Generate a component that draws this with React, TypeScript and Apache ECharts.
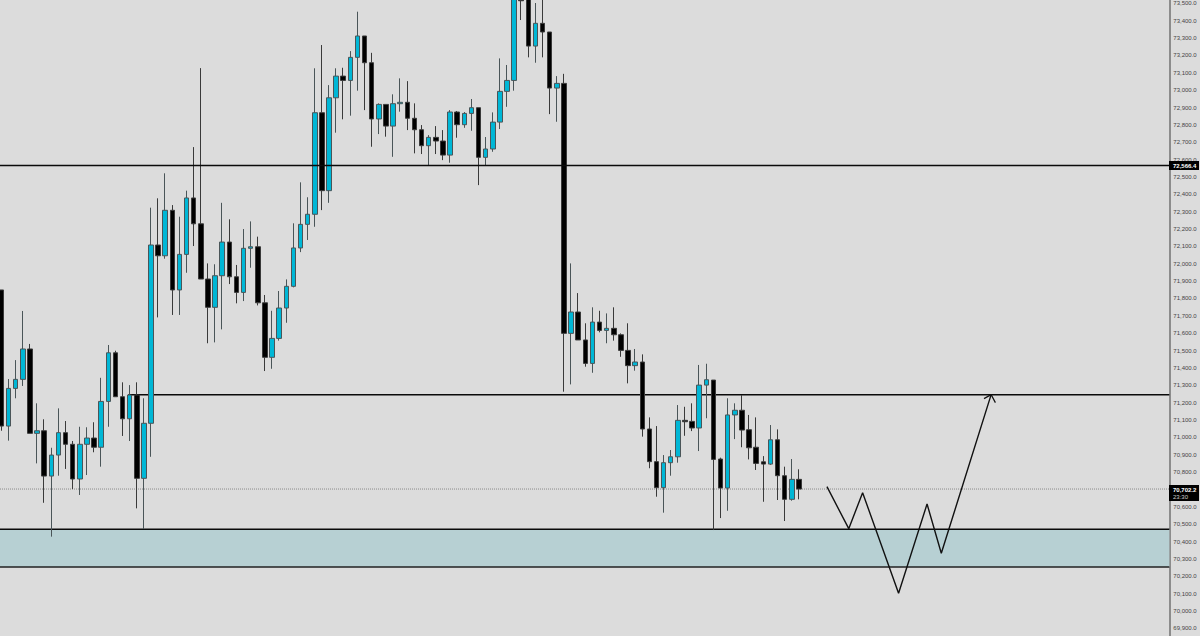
import React, { useEffect, useRef } from "react";
import * as echarts from "echarts";

const opens = [
  71849, 71065, 71282, 71334, 71509, 71023, 71038, 70777, 70898, 71027,
  70960, 70760, 70960, 70996, 70943, 71207, 71487, 71234, 71107, 71244,
  70764, 71081, 72108, 72046, 72308, 71849, 72054, 72379, 72230, 71912,
  71749, 71931, 72125, 71925, 71835, 72089, 72098, 71775, 71461, 71570,
  71745, 71870, 72091, 72227, 72285, 72870, 72421, 72956, 73081, 73056,
  73189, 73312, 73158, 72834, 72918, 72793, 72922, 72930, 72838, 72772,
  72680, 72728, 72707, 72626, 72874, 72801, 72866, 72899, 72613, 72661,
  72816, 72993, 73056, 73540, 73560, 73254, 73385, 73335, 73012, 73039,
  71599, 71722, 71561, 71426, 71664, 71616, 71628, 71591, 71501, 71413,
  71434, 71048, 70860, 70710, 70854, 70888, 71098, 71092, 71054, 71301,
  71330, 70875, 70708, 71129, 71156, 71044, 70943, 70859, 70846, 70986,
  70779, 70643, 70758,
];
const closes = [
  71065, 71282, 71334, 71509, 71023, 71038, 70777, 70898, 71027, 70960,
  70760, 70960, 70996, 70943, 71207, 71487, 71234, 71107, 71244, 70764,
  71081, 72108, 72046, 72308, 71849, 72054, 72379, 72230, 71912, 71749,
  71931, 72125, 71925, 71835, 72089, 72098, 71775, 71461, 71570, 71745,
  71870, 72091, 72227, 72285, 72870, 72421, 72956, 73081, 73056, 73189,
  73312, 73158, 72834, 72918, 72793, 72922, 72930, 72838, 72772, 72680,
  72728, 72707, 72626, 72874, 72801, 72866, 72899, 72613, 72661, 72816,
  72993, 73056, 73560, 73515, 73254, 73385, 73335, 73012, 73039, 71599,
  71722, 71561, 71426, 71664, 71616, 71628, 71591, 71501, 71413, 71434,
  71048, 70860, 70710, 70854, 70888, 71098, 71090, 71054, 71301, 71332,
  70873, 70708, 71129, 71156, 71042, 70940, 70850, 70846, 70986, 70779,
  70643, 70758, 70702,
];
const lows = [
  71038, 70981, 71225, 71296, 71023, 70850, 70623, 70428, 70779, 70818,
  70702, 70668, 70783, 70914, 70831, 71061, 71234, 71008, 70979, 70591,
  70472, 70888, 71691, 72029, 71705, 71705, 71948, 72102, 71912, 71542,
  71547, 71622, 71883, 71772, 71785, 71977, 71760, 71382, 71395, 71557,
  71660, 71864, 72067, 72137, 72213, 72309, 72351, 72755, 72832, 72853,
  72997, 72885, 72674, 72747, 72732, 72616, 72876, 72770, 72636, 72632,
  72569, 72632, 72597, 72582, 72726, 72783, 72766, 72453, 72569, 72645,
  72776, 72904, 72997, 73404, 73189, 73158, 73189, 72862, 72818, 71263,
  71305, 71561, 71407, 71372, 71605, 71542, 71557, 71464, 71311, 71384,
  71004, 70822, 70658, 70566, 70779, 70854, 71009, 71036, 70921, 71110,
  70466, 70535, 70577, 70990, 70943, 70873, 70812, 70629, 70841, 70639,
  70518, 70635, 70643,
];
const highs = [
  71849, 71336, 71445, 71728, 71538, 71196, 71104, 70940, 71167, 71094,
  70979, 71061, 71058, 71087, 71343, 71532, 71499, 71317, 71301, 71317,
  71225, 72323, 72377, 72521, 72338, 72271, 72421, 72672, 73127, 72002,
  71997, 72351, 72256, 71993, 72200, 72244, 72156, 71820, 71729, 71843,
  71910, 72233, 72469, 72383, 73126, 73260, 73029, 73126, 73129, 73225,
  73452, 73312, 73215, 72924, 72918, 72976, 73068, 73052, 72924, 72799,
  72741, 72793, 72770, 72885, 72880, 72874, 72949, 72899, 72730, 72872,
  73183, 73145, 73570, 73560, 73580, 73502, 73550, 73335, 73081, 73094,
  72002, 71831, 71657, 71749, 71729, 71714, 71749, 71599, 71657, 71509,
  71478, 71115, 71065, 70898, 70927, 71186, 71176, 71196, 71417, 71424,
  71330, 70883, 71225, 71196, 71244, 71129, 71115, 70892, 71071, 71046,
  70831, 70875, 70816,
];

const X_MIN = -0.21;
const X_MAX = 164.03;
const resistance = 72566.4;
const midLevel = 71245.6;
const midLevelStart = 17.8;
const lastPrice = 70702.2;
const zoneTop = 70470;
const zoneBottom = 70253;
const countdown = "23:30";
const zigzag = [
  [115.94, 70716], [119, 70474], [120.95, 70681], [126, 70102],
  [130, 70616], [132, 70332], [139, 71246],
];
const arrowHead = [
  [138, 71223], [139, 71246], [139.6, 71200],
];

const fmt = (v: number) =>
  v.toLocaleString("en-US", { minimumFractionDigits: 1, maximumFractionDigits: 1 });

const lineSeries = (data: number[][], style: any, z: number, extra: any = {}) => ({
  type: "line",
  data,
  showSymbol: false,
  silent: true,
  z,
  lineStyle: style,
  ...extra,
});

export default function App() {
  const ref = useRef<HTMLDivElement>(null);
  useEffect(() => {
    const chart = echarts.init(ref.current!, undefined, { renderer: "svg" });
    const font = "'Liberation Sans', Arial, sans-serif";
    chart.setOption({
      animation: false,
      backgroundColor: "#dcdcdc",
      grid: { left: 0, width: 1169.34, top: -14, height: 659.66, outerBoundsMode: "none" },
      xAxis: { type: "value", min: X_MIN, max: X_MAX, show: false },
      yAxis: {
        type: "value",
        position: "right",
        min: 69800,
        max: 73600,
        interval: 100,
        splitLine: { show: false },
        axisTick: { show: false },
        axisLine: { show: true, onZero: false, lineStyle: { color: "#8c8c8c", width: 2 } },
        axisLabel: {
          margin: 4,
          fontSize: 6,
          fontFamily: font,
          color: "#444",
          showMinLabel: false,
          showMaxLabel: false,
          formatter: (v: number) => fmt(v),
        },
      },
      series: [
        lineSeries([[X_MIN, zoneTop], [X_MAX, zoneTop]], { color: "#0a0a0a", width: 1.5 }, 2, {
          markArea: {
            silent: true,
            itemStyle: { color: "#b7d0d3" },
            data: [[{ xAxis: X_MIN, yAxis: zoneTop }, { xAxis: X_MAX, yAxis: zoneBottom }]],
          },
        }),
        lineSeries([[X_MIN, zoneBottom], [X_MAX, zoneBottom]], { color: "#222", width: 1.5 }, 2),
        lineSeries([[midLevelStart, midLevel], [X_MAX, midLevel]], { color: "#0a0a0a", width: 1.5 }, 2),
        lineSeries([[X_MIN, lastPrice], [X_MAX, lastPrice]], { color: "#8a8a8a", width: 1, type: [1, 1] }, 2),
        {
          type: "candlestick",
          barWidth: 5,
          silent: true,
          z: 3,
          encode: { x: 0, y: [1, 2, 3, 4] },
          itemStyle: {
            color: "#00b7d6",
            color0: "#000000",
            borderColor: "#4a5558",
            borderColor0: "#3a3a3a",
            borderWidth: 1,
          },
          data: opens.map((o, i) => [i, o, closes[i], lows[i], highs[i]]),
        },
        lineSeries([[X_MIN, resistance], [X_MAX, resistance]], { color: "#0a0a0a", width: 1.5 }, 4),
        lineSeries(zigzag, { color: "#111", width: 1.4 }, 5),
        lineSeries(arrowHead, { color: "#111", width: 1.2 }, 5),
      ],
      graphic: [
        { type: "rect", z: 10, shape: { x: 1169, y: 161, width: 30, height: 9 }, style: { fill: "#000" } },
        { type: "text", z: 11, x: 1173, y: 162.5, style: { text: fmt(resistance), fill: "#fff", font: `bold 6px ${font}` } },
        { type: "rect", z: 10, shape: { x: 1169, y: 485, width: 30, height: 16 }, style: { fill: "#000" } },
        { type: "text", z: 11, x: 1173, y: 486.5, style: { text: fmt(lastPrice), fill: "#fff", font: `bold 6px ${font}` } },
        { type: "text", z: 11, x: 1173, y: 493.5, style: { text: countdown, fill: "#ccc", font: `6px ${font}` } },
      ],
    });
    return () => chart.dispose();
  }, []);
  return (
    <div
      ref={ref}
      style={{ position: "fixed", left: 0, top: 0, width: 1200, height: 636, overflow: "hidden" }}
    />
  );
}
